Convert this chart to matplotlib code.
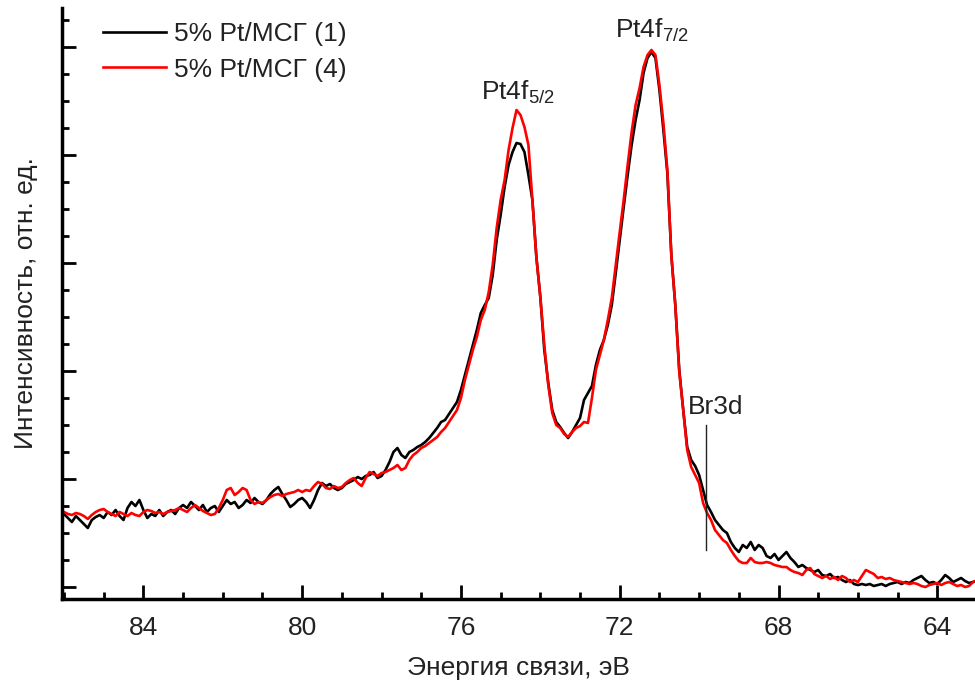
import numpy as np
import matplotlib
matplotlib.use('Agg')
import matplotlib.pyplot as plt
from matplotlib.ticker import MultipleLocator, FixedLocator

# XPS Pt4f region, intensity in arbitrary units, 0.1 eV step from 86.0 eV
E_START = 86.0
E_STEP = 0.1

pt_msg_1 = [
  85, 81, 77, 83, 79, 75, 71, 79, 82, 84, 81, 87, 84, 89, 83, 79, 91, 97, 93, 99,
  89, 81, 85, 83, 89, 83, 87, 89, 85, 91, 94, 91, 97, 93, 89, 94, 87, 91, 93, 87,
  93, 99, 95, 97, 91, 94, 99, 96, 101, 97, 95, 99, 105, 109, 112, 105, 99, 92, 95, 99,
  101,
  97, 91, 99, 109, 116, 113, 115, 111, 109, 111, 115, 117, 119, 122, 120, 123, 124, 127, 121, 123,
  129, 137, 147, 151, 144, 141, 147, 149, 152, 154, 157, 161, 166, 171, 177, 179, 185, 191, 197, 209,
  224, 239, 254, 269, 286, 294, 301, 324, 359, 384, 412, 434, 447, 456, 455, 447, 424, 399, 342, 302,
  249, 216, 189, 177, 172, 166, 161, 167, 174, 181, 199, 206, 213, 234, 249, 259, 274, 294, 326, 359,
  392, 424, 454, 479, 499, 526, 541, 547, 541, 509, 469, 426, 344, 294, 229, 189, 152, 139, 133, 124,
  109, 94, 87, 79, 74, 69, 66, 57, 51, 47, 54, 51, 57, 49, 54, 51, 43, 41, 45, 39,
  43, 47, 41, 37, 32, 34, 31, 29, 27, 29, 24, 23, 25, 21, 22, 19, 17, 19, 15, 14,
  15, 14, 15, 13, 14, 15, 13, 15, 16, 17, 15, 17, 16, 19, 21, 23, 19, 16, 17, 15,
  19, 24, 21, 17, 19, 21, 18, 16, 17, 18,
]

pt_msg_4 = [
  87, 85, 84, 86, 85, 83, 80, 84, 87, 89, 90, 87, 85, 83, 87, 85, 83, 86, 84, 83,
  87, 89, 88, 86, 87, 85, 87, 88, 89, 91, 89, 87, 91, 94, 91, 88, 86, 84, 85, 91,
  99, 109, 111, 104, 107, 111, 109, 99, 95, 97, 96, 99, 102, 104, 105, 103, 105, 106, 107, 109,
  107,
  109, 108, 113, 117, 115, 111, 110, 113, 111, 112, 116, 119, 121, 116, 113, 121, 127, 125, 123, 126,
  127, 129, 131, 134, 129, 131, 139, 144, 147, 151, 153, 156, 159, 162, 167, 171, 177, 183, 189, 201,
  219, 234, 249, 262, 279, 289, 307, 334, 371, 399, 419, 449, 471, 489, 484, 472, 454, 399, 342, 302,
  254, 214, 186, 174, 171, 165, 162, 167, 171, 173, 177, 176, 201, 229, 244, 259, 279, 301, 334, 367,
  399, 434, 467, 494, 511, 532, 544, 549, 544, 514, 476, 429, 344, 294, 227, 189, 149, 132, 124, 116,
  96, 86, 79, 69, 64, 59, 56, 49, 43, 38, 36, 36, 41, 37, 36, 36, 37, 36, 34, 33,
  32, 32, 29, 27, 26, 24, 29, 31, 25, 23, 21, 23, 20, 22, 19, 23, 21, 17, 19, 17,
  23, 29, 27, 25, 21, 22, 20, 21, 19, 18, 17, 16, 15, 16, 15, 13, 12, 14, 15, 16,
  14, 16, 17, 15, 13, 14, 12, 13, 17, 19,
]

series_labels = ['5% Pt/МСГ (1)', '5% Pt/МСГ (4)']
series_colors = ['#000000', '#ff0000']

peak_labels = [r'Pt4f$_{\mathregular{5/2}}$', r'Pt4f$_{\mathregular{7/2}}$']
peak_pos = [(74.56, 499), (71.19, 562)]

br_energy = 69.83
br_span = (49, 174)

x_ticks = [84, 80, 76, 72, 68, 64]
y_major = [12, 120, 228, 336, 444, 552]

TEXT = '#222222'
FS = 19

plt.rcParams['font.family'] = ['Liberation Sans', 'DejaVu Sans']
plt.rcParams['mathtext.fontset'] = 'custom'
plt.rcParams['mathtext.rm'] = 'Liberation Sans'

fig = plt.figure(figsize=(9.75, 6.91), dpi=100)
ax = fig.add_axes([62 / 975, 1 - 599 / 691, 1 - 62 / 975, (599 - 8) / 691])

for vals, lab, col in zip([pt_msg_1, pt_msg_4], series_labels, series_colors):
  energy = E_START - E_STEP * np.arange(len(vals))
  ax.plot(energy, vals, color=col, lw=1.9, label=lab)

# peak annotations
for lab, (xe, yh) in zip(peak_labels, peak_pos):
  ax.text(xe, yh, lab, ha='center', va='baseline', fontsize=FS, color=TEXT)

ax.plot([br_energy, br_energy], br_span, color='#222222', lw=1.0)
ax.text(70.28, 192, 'Br3d', ha='left', va='center', fontsize=FS, color=TEXT)

ax.set_xlim(86.05, 63.05)
ax.set_ylim(0, 591)

ax.xaxis.set_major_locator(FixedLocator(x_ticks))
ax.xaxis.set_minor_locator(MultipleLocator(1))
ax.yaxis.set_major_locator(FixedLocator(y_major))
ax.yaxis.set_minor_locator(FixedLocator(np.arange(12, 591, 27)))

ax.tick_params(which='both', direction='in', width=2, colors='black', labelcolor=TEXT, labelsize=FS)
ax.tick_params(which='major', length=10, pad=12)
ax.tick_params(which='minor', length=5)
ax.tick_params(axis='y', labelleft=False)

for side in ['top', 'right']:
  ax.spines[side].set_visible(False)
for side in ['left', 'bottom']:
  ax.spines[side].set_linewidth(2.5)

ax.set_xlabel('Энергия связи, эВ', fontsize=FS, color=TEXT, labelpad=12)
ax.set_ylabel('Интенсивность, отн. ед.', fontsize=FS, color=TEXT, labelpad=14)

ax.legend(loc='upper left', bbox_to_anchor=(0.045, 0.976), frameon=False, fontsize=FS,
          handlelength=2.4, handletextpad=0.3, labelspacing=0.43, borderpad=0, borderaxespad=0,
          labelcolor=TEXT)

fig.savefig('out.png', dpi=100)
